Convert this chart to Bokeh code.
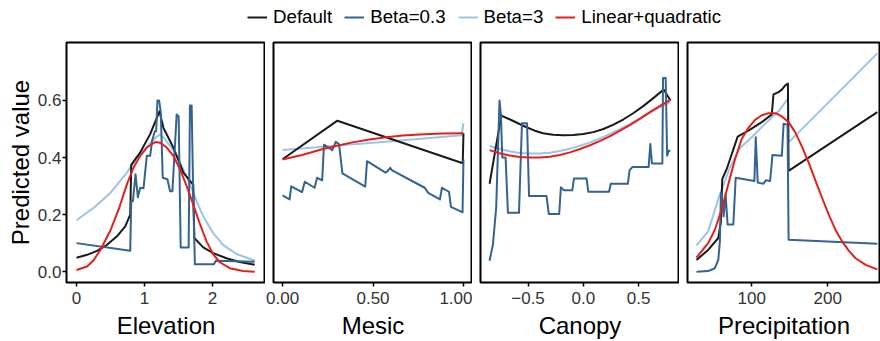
from bokeh.plotting import figure
from bokeh.layouts import column, row
from bokeh.models import FixedTicker, Legend, LegendItem, Range1d, CustomJSTickFormatter
from bokeh.embed import file_html
from bokeh.resources import INLINE

# ---------------- data ----------------
series_names = ["Default", "Beta=0.3", "Beta=3", "Linear+quadratic"]
series_colors = ["#1a1a1a", "#35638f", "#9ac5e8", "#e3211c"]

# Elevation
elev_default_x = [0, 0.156, 0.302, 0.449, 0.595, 0.717, 0.790, 0.805, 0.937, 1.083, 1.22, 1.278, 1.424, 1.571, 1.717, 1.732, 1.863, 2.01, 2.205, 2.4, 2.62]
elev_default_y = [0.049, 0.059, 0.073, 0.094, 0.124, 0.159, 0.200, 0.374, 0.418, 0.482, 0.562, 0.504, 0.435, 0.347, 0.304, 0.118, 0.085, 0.065, 0.047, 0.034, 0.024]
elev_b03_x = [0, 0.79, 0.805, 0.829, 0.868, 0.902, 0.937, 0.985, 1.034, 1.083, 1.112, 1.151, 1.171, 1.19, 1.215, 1.239, 1.268, 1.337, 1.376, 1.41, 1.473, 1.502, 1.532, 1.649, 1.668, 1.693, 1.717, 1.741, 2.02, 2.049, 2.62]
elev_b03_y = [0.1, 0.073, 0.247, 0.247, 0.341, 0.261, 0.294, 0.292, 0.406, 0.406, 0.459, 0.492, 0.492, 0.6, 0.6, 0.559, 0.329, 0.324, 0.282, 0.282, 0.551, 0.544, 0.085, 0.085, 0.582, 0.582, 0.259, 0.026, 0.026, 0.038, 0.035]
elev_b3_x = [0, 0.254, 0.498, 0.741, 0.888, 1.034, 1.156, 1.22, 1.278, 1.376, 1.473, 1.571, 1.668, 1.766, 1.863, 2.01, 2.156, 2.351, 2.62]
elev_b3_y = [0.18, 0.224, 0.276, 0.347, 0.4, 0.438, 0.468, 0.48, 0.471, 0.441, 0.406, 0.359, 0.306, 0.247, 0.194, 0.135, 0.094, 0.062, 0.039]
elev_lq_x = [0, 0.156, 0.254, 0.351, 0.498, 0.62, 0.741, 0.839, 0.937, 1.034, 1.156, 1.229, 1.327, 1.424, 1.522, 1.62, 1.717, 1.815, 1.912, 2.01, 2.107, 2.254, 2.449, 2.62]
elev_lq_y = [0.006, 0.018, 0.041, 0.076, 0.144, 0.218, 0.306, 0.365, 0.406, 0.435, 0.454, 0.452, 0.435, 0.406, 0.359, 0.3, 0.235, 0.167, 0.106, 0.061, 0.033, 0.012, 0.002, 0.0]

# Mesic
mesic_default_x = [0, 0.303, 0.996, 1.0]
mesic_default_y = [0.394, 0.529, 0.38, 0.485]
mesic_b03_x = [0, 0.039, 0.048, 0.108, 0.123, 0.177, 0.191, 0.219, 0.229, 0.275, 0.294, 0.312, 0.331, 0.457, 0.467, 0.569, 0.582, 0.595, 0.606, 0.786, 0.805, 0.87, 0.881, 0.92, 0.931, 0.995, 1.0]
mesic_b03_y = [0.267, 0.253, 0.299, 0.279, 0.315, 0.294, 0.329, 0.32, 0.445, 0.426, 0.455, 0.447, 0.344, 0.298, 0.387, 0.347, 0.353, 0.364, 0.355, 0.294, 0.276, 0.253, 0.294, 0.28, 0.227, 0.208, 0.393]
mesic_b3_x = [0, 0.25, 0.5, 0.75, 0.99, 1.0]
mesic_b3_y = [0.426, 0.439, 0.452, 0.465, 0.478, 0.52]
mesic_lq_x = [0, 0.108, 0.219, 0.3, 0.387, 0.48, 0.572, 0.665, 0.758, 0.88, 1.0]
mesic_lq_y = [0.393, 0.409, 0.429, 0.441, 0.453, 0.463, 0.471, 0.477, 0.481, 0.484, 0.485]

# Canopy
canopy_default_x = [-0.848, -0.742, -0.667, -0.591, -0.515, -0.439, -0.364, -0.273, -0.182, -0.091, 0.0, 0.091, 0.182, 0.273, 0.364, 0.455, 0.545, 0.636, 0.727, 0.788]
canopy_default_y = [0.308, 0.547, 0.534, 0.52, 0.506, 0.494, 0.485, 0.48, 0.478, 0.479, 0.482, 0.489, 0.5, 0.515, 0.534, 0.556, 0.581, 0.609, 0.638, 0.6]
canopy_b03_x = [-0.848, -0.818, -0.788, -0.758, -0.745, -0.733, -0.703, -0.682, -0.582, -0.555, -0.509, -0.491, -0.333, -0.312, -0.218, -0.203, -0.176, -0.1, -0.085, 0.03, 0.045, 0.233, 0.248, 0.403, 0.418, 0.445, 0.591, 0.606, 0.621, 0.715, 0.721, 0.745, 0.758, 0.773, 0.788]
canopy_b03_y = [0.038, 0.094, 0.224, 0.6, 0.547, 0.4, 0.4, 0.206, 0.206, 0.52, 0.52, 0.265, 0.265, 0.202, 0.202, 0.296, 0.285, 0.285, 0.326, 0.326, 0.28, 0.28, 0.308, 0.308, 0.355, 0.367, 0.367, 0.447, 0.379, 0.379, 0.679, 0.679, 0.406, 0.424, 0.424]
canopy_b3_x = [-0.848, -0.758, -0.667, -0.576, -0.485, -0.394, -0.303, -0.212, -0.121, -0.03, 0.061, 0.152, 0.242, 0.333, 0.424, 0.515, 0.606, 0.697, 0.788]
canopy_b3_y = [0.441, 0.43, 0.422, 0.416, 0.414, 0.414, 0.417, 0.423, 0.431, 0.441, 0.453, 0.467, 0.483, 0.5, 0.518, 0.538, 0.558, 0.577, 0.594]
canopy_lq_x = [-0.848, -0.758, -0.667, -0.576, -0.485, -0.394, -0.303, -0.212, -0.121, -0.03, 0.061, 0.152, 0.242, 0.333, 0.424, 0.515, 0.606, 0.697, 0.788]
canopy_lq_y = [0.426, 0.415, 0.407, 0.402, 0.4, 0.4, 0.403, 0.409, 0.418, 0.43, 0.443, 0.458, 0.475, 0.494, 0.514, 0.536, 0.56, 0.582, 0.602]

# Precipitation
precip_default_x = [27.3, 42.7, 56.0, 59.5, 61.2, 67.0, 81.5, 95.6, 113.2, 126.4, 128.6, 135.2, 139.6, 144.1, 147.6, 148.5, 265.2]
precip_default_y = [0.041, 0.076, 0.118, 0.176, 0.324, 0.359, 0.473, 0.494, 0.524, 0.551, 0.621, 0.629, 0.638, 0.653, 0.659, 0.353, 0.559]
precip_b03_x = [27.3, 42.7, 51.5, 56.0, 58.1, 59.5, 61.2, 63.0, 65.6, 68.3, 75.8, 78.9, 103.5, 105.3, 107.9, 115.4, 118.5, 124.2, 127.3, 139.6, 141.9, 147.1, 148.5, 265.2]
precip_b03_y = [0.0, 0.002, 0.012, 0.041, 0.106, 0.276, 0.247, 0.194, 0.271, 0.165, 0.165, 0.329, 0.318, 0.471, 0.312, 0.308, 0.32, 0.318, 0.409, 0.406, 0.518, 0.515, 0.112, 0.098]
precip_b3_x = [27.3, 42.7, 58.1, 71.4, 84.6, 100.0, 117.6, 135.2, 147.6, 148.5, 265.2]
precip_b3_y = [0.092, 0.141, 0.271, 0.365, 0.433, 0.471, 0.518, 0.562, 0.606, 0.453, 0.765]
precip_lq_x = [27.3, 33.9, 42.7, 51.5, 60.4, 69.2, 78.0, 86.8, 95.6, 104.4, 113.2, 122.0, 132.2, 139.6, 148.5, 157.3, 166.1, 174.9, 183.7, 192.5, 201.3, 210.1, 218.9, 227.8, 236.6, 249.8, 265.2]
precip_lq_y = [0.049, 0.071, 0.1, 0.147, 0.218, 0.306, 0.394, 0.465, 0.504, 0.532, 0.548, 0.555, 0.555, 0.544, 0.524, 0.488, 0.438, 0.382, 0.32, 0.259, 0.2, 0.147, 0.106, 0.073, 0.047, 0.024, 0.008]

y_ticks = [0.0, 0.2, 0.4, 0.6]
panel_titles = ["Elevation", "Mesic", "Canopy", "Precipitation"]
panel_ticks = [[0, 1, 2], [0.0, 0.5, 1.0], [-0.5, 0.0, 0.5], [100, 200]]
panel_decimals = [0, 2, 1, 0]

panels = [
    [(elev_default_x, elev_default_y), (elev_b03_x, elev_b03_y), (elev_b3_x, elev_b3_y), (elev_lq_x, elev_lq_y)],
    [(mesic_default_x, mesic_default_y), (mesic_b03_x, mesic_b03_y), (mesic_b3_x, mesic_b3_y), (mesic_lq_x, mesic_lq_y)],
    [(canopy_default_x, canopy_default_y), (canopy_b03_x, canopy_b03_y), (canopy_b3_x, canopy_b3_y), (canopy_lq_x, canopy_lq_y)],
    [(precip_default_x, precip_default_y), (precip_b03_x, precip_b03_y), (precip_b3_x, precip_b3_y), (precip_lq_x, precip_lq_y)],
]

# ---------------- layout ----------------
FONT = "Liberation Sans"
x_ranges = [(-0.147, 2.779), (-0.05, 1.05), (-0.93, 0.87), (15.5, 269.4)]
y_range = (-0.038, 0.803)
widths = [265, 207, 207, 201]
left_borders = [66, 8, 8, 8]
draw_order = [2, 0, 1, 3]  # light blue below, then black, blue, red

figs = []
for i in range(4):
    kw = dict(width=widths[i], height=301, output_backend="svg", toolbar_location=None,
              x_range=Range1d(*x_ranges[i]), y_range=Range1d(*y_range),
              min_border_left=left_borders[i], min_border_right=0,
              min_border_top=2, min_border_bottom=59)
    if i > 0:
        kw["y_axis_location"] = None
    p = figure(**kw)
    p.outline_line_color = "black"
    p.outline_line_width = 2
    p.outline_line_alpha = 1
    p.grid.visible = False
    p.background_fill_color = "white"
    p.border_fill_color = "white"
    for k in draw_order:
        xs, ys = panels[i][k]
        p.line(xs, ys, line_color=series_colors[k], line_width=2, line_join="round")
    ax = p.xaxis[0]
    ax.ticker = FixedTicker(ticks=panel_ticks[i])
    ax.formatter = CustomJSTickFormatter(args=dict(d=panel_decimals[i]), code="""
        const s = Math.abs(tick).toFixed(d);
        return tick < 0 ? "\u2212" + s : s;
    """)
    ax.axis_label = panel_titles[i]
    ax.major_label_standoff = 5
    ax.axis_label_standoff = 5
    axes = [ax]
    if i == 0:
        ay = p.yaxis[0]
        ay.ticker = FixedTicker(ticks=y_ticks)
        ay.formatter = CustomJSTickFormatter(code="return tick.toFixed(1);")
        ay.axis_label = "Predicted value"
        ay.major_label_standoff = 1
        ay.axis_label_standoff = 1
        axes.append(ay)
    for a in axes:
        a.axis_line_color = None
        a.major_tick_line_color = "black"
        a.major_tick_line_width = 1.5
        a.major_tick_out = 4
        a.major_tick_in = 0
        a.minor_tick_line_color = None
        a.major_label_text_font = FONT
        a.major_label_text_font_size = "17px"
        a.major_label_text_color = "#333333"
        a.axis_label_text_font = FONT
        a.axis_label_text_font_size = "24px"
        a.axis_label_text_font_style = "normal"
        a.axis_label_text_color = "black"
    figs.append(p)

# legend strip
lf = figure(width=880, height=40, output_backend="svg", toolbar_location=None,
            x_range=Range1d(0, 1), y_range=Range1d(0, 1),
            x_axis_location=None, y_axis_location=None,
            min_border_left=0, min_border_right=0, min_border_top=0, min_border_bottom=0)
lf.outline_line_color = None
lf.grid.visible = False
items = []
for name, col in zip(series_names, series_colors):
    r = lf.line([5, 6], [5, 6], line_color=col, line_width=2)
    items.append(LegendItem(label=name, renderers=[r]))
legend = Legend(items=items, orientation="horizontal", location=(247, 12),
                glyph_width=20, glyph_height=18, label_standoff=6, spacing=12,
                padding=0, margin=0, border_line_color=None, background_fill_alpha=0,
                label_text_font=FONT, label_text_font_size="18.7px", label_text_color="black")
lf.add_layout(legend)

layout = column(lf, row(*figs))
open("out.html", "w").write(file_html(layout, INLINE))
